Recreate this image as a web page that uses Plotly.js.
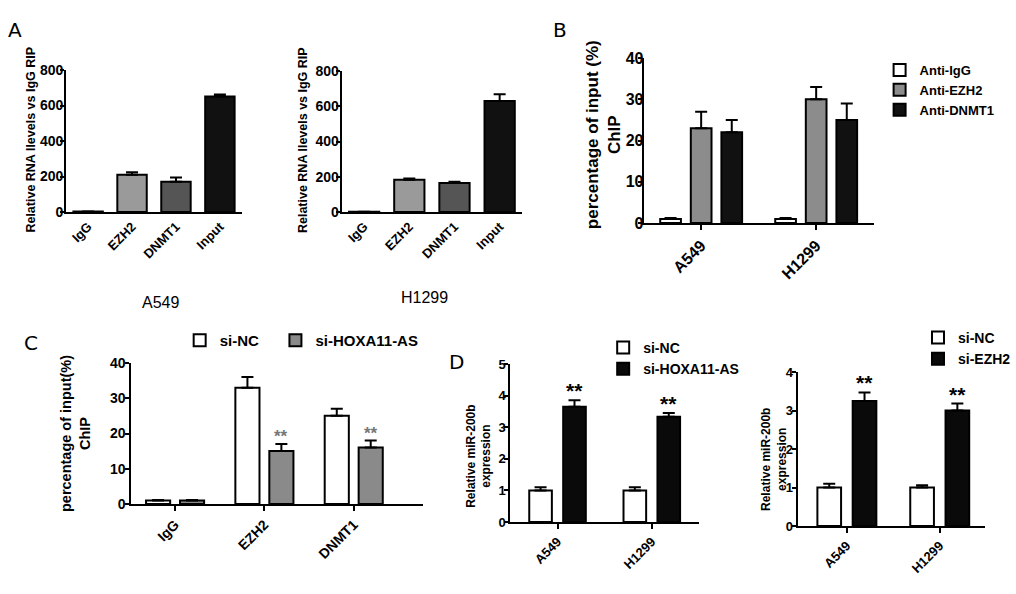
<!DOCTYPE html>
<html>
<head>
<meta charset="utf-8">
<script src="https://cdn.plot.ly/plotly-3.0.1.min.js"></script>
<style>html,body{margin:0;padding:0;background:#fff;}#chart{width:1016px;height:594px;}</style>
</head>
<body>
<div id="chart"></div>
<script>
// ---------- DATA ----------
// Panel A (RIP)
const aCats = ['IgG', 'EZH2', 'DNMT1', 'Input'];
const aA549Vals = [3, 210, 170, 650];
const aA549Err = [0, 14, 25, 12];
const aH1299Vals = [2, 183, 165, 630];
const aH1299Err = [0, 7, 7, 38];
const aCellLabels = ['A549', 'H1299'];
const aTicks = [0, 200, 400, 600, 800];
// Panel B (ChIP)
const bCats = ['A549', 'H1299'];
const bIgG = [1, 1];
const bIgGErr = [0.2, 0.2];
const bEZH2 = [23, 30];
const bEZH2Err = [4, 3];
const bDNMT1 = [22, 25];
const bDNMT1Err = [3, 4];
const bNames = ['Anti-IgG', 'Anti-EZH2', 'Anti-DNMT1'];
const bTicks = [0, 10, 20, 30, 40];
// Panel C (ChIP after knockdown)
const cCats = ['IgG', 'EZH2', 'DNMT1'];
const cNC = [1, 33, 25];
const cNCErr = [0.1, 3, 2];
const cHOX = [1, 15, 16];
const cHOXErr = [0.1, 2, 2];
const cSig = ['', '**', '**'];
const cNames = ['si-NC', 'si-HOXA11-AS'];
const cTicks = [0, 10, 20, 30, 40];
// Panel D (miR-200b, si-HOXA11-AS)
const dCats = ['A549', 'H1299'];
const dNC = [1, 1];
const dNCErr = [0.1, 0.1];
const dHOX = [3.65, 3.33];
const dHOXErr = [0.2, 0.12];
const dSig = ['**', '**'];
const dNames = ['si-NC', 'si-HOXA11-AS'];
const dTicks = [0, 1, 2, 3, 4, 5];
// Panel E (miR-200b, si-EZH2)
const eCats = ['A549', 'H1299'];
const eNC = [1, 1];
const eNCErr = [0.1, 0.06];
const eEZH2 = [3.25, 3.0];
const eEZH2Err = [0.22, 0.18];
const eSig = ['**', '**'];
const eNames = ['si-NC', 'si-EZH2'];
const eTicks = [0, 1, 2, 3, 4];

// ---------- HELPERS ----------
const W = 1016, H = 594;
const FONT = 'Liberation Sans, Arial, sans-serif';
const px = v => v / W;
const py = v => 1 - v / H;
const zeros = n => new Array(n).fill(0);
const b = s => '<b>' + s + '</b>';

function errY(arr) {
  return {type: 'data', symmetric: false, array: arr, arrayminus: zeros(arr.length),
          color: '#000', thickness: 2, width: 6};
}
function bar(xa, ya, cats, vals, errs, color, opts) {
  return Object.assign({
    type: 'bar', x: cats, y: vals, xaxis: xa, yaxis: ya,
    marker: {color: color, line: {color: '#000', width: 2}},
    error_y: errY(errs), hoverinfo: 'skip'
  }, opts || {});
}
function xAxis(x0, x1, anchor, range, cats, fs, ticks) {
  return {domain: [px(x0), px(x1)], anchor: anchor, type: 'category', range: range,
          tickmode: 'array', tickvals: cats, ticktext: cats.map(b),
          showline: true, linecolor: '#000', linewidth: 2, showgrid: false, zeroline: false,
          ticks: ticks ? 'outside' : '', ticklen: 5, tickwidth: 2, tickcolor: '#000',
          tickangle: -45, tickfont: {family: FONT, size: fs, color: '#000', weight: 700},
          fixedrange: true};
}
function yAxis(yTop, yBot, anchor, range, tv, fs, standoff) {
  return {domain: [py(yBot), py(yTop)], anchor: anchor, range: range,
          tickmode: 'array', tickvals: tv, ticktext: tv.map(v => b(String(v))),
          showline: true, linecolor: '#000', linewidth: 2, showgrid: false, zeroline: false,
          ticks: 'outside', ticklen: 4, tickwidth: 2, tickcolor: '#000',
          ticklabelposition: 'outside', ticklabelstandoff: standoff,
          tickfont: {family: FONT, size: fs, color: '#000', weight: 700},
          fixedrange: true};
}

// ---------- TRACES ----------
const traces = [];
const aColors = ['#ffffff', '#9a9a9a', '#555555', '#111111'];
// A
traces.push(bar('x', 'y', aCats, aA549Vals, aA549Err, aColors, {width: 0.67, showlegend: false}));
traces.push(bar('x2', 'y2', aCats, aH1299Vals, aH1299Err, aColors, {width: 0.67, showlegend: false}));
// B
const bW = 0.18;
[[bIgG, bIgGErr, '#ffffff', -0.266], [bEZH2, bEZH2Err, '#8c8c8c', 0], [bDNMT1, bDNMT1Err, '#111111', 0.266]]
  .forEach((s, i) => traces.push(bar('x3', 'y3', bCats, s[0], s[1], s[2],
    {name: bNames[i], width: bW, offset: s[3] - bW / 2, legend: 'legend'})));
// C
const cW = 0.27, cOff = [-0.19, 0.19];
traces.push(bar('x4', 'y4', cCats, cNC, cNCErr, '#ffffff', {name: cNames[0], width: cW, offset: cOff[0] - cW / 2, legend: 'legend2'}));
traces.push(bar('x4', 'y4', cCats, cHOX, cHOXErr, '#8a8a8a', {name: cNames[1], width: cW, offset: cOff[1] - cW / 2, legend: 'legend5'}));
// D
const dW = 0.24, dOff = [-0.18, 0.18];
traces.push(bar('x5', 'y5', dCats, dNC, dNCErr, '#ffffff', {name: dNames[0], width: dW, offset: dOff[0] - dW / 2, legend: 'legend3'}));
traces.push(bar('x5', 'y5', dCats, dHOX, dHOXErr, '#0a0a0a', {name: dNames[1], width: dW, offset: dOff[1] - dW / 2, legend: 'legend3'}));
// E
const eW = 0.255, eOff = [-0.19, 0.19];
traces.push(bar('x6', 'y6', eCats, eNC, eNCErr, '#ffffff', {name: eNames[0], width: eW, offset: eOff[0] - eW / 2, legend: 'legend4'}));
traces.push(bar('x6', 'y6', eCats, eEZH2, eEZH2Err, '#0a0a0a', {name: eNames[1], width: eW, offset: eOff[1] - eW / 2, legend: 'legend4'}));

// ---------- ANNOTATIONS ----------
const ann = [];
function txt(x, y, t, size, opts) {
  ann.push(Object.assign({xref: 'paper', yref: 'paper', x: px(x), y: py(y), text: t, showarrow: false,
    xanchor: 'center', yanchor: 'middle', font: {family: FONT, size: size, color: '#000'}}, opts || {}));
}
const letterFont = {family: 'DejaVu Sans', size: 20, color: '#000'};
txt(15, 30, 'A', 20, {font: letterFont});
txt(567, 30, 'B', 20, {font: letterFont});
txt(31, 343, 'C', 20, {font: letterFont});
txt(462, 362, 'D', 20, {font: letterFont});
// cell labels under A
txt(163, 302, aCellLabels[0], 16);
txt(430, 297, aCellLabels[1], 16);
// y titles
const bold = (s) => ({family: FONT, size: s, color: '#000', weight: 700});
txt(31, 140, b('Relative RNA llevels vs IgG RIP'), 12.5, {textangle: -90, font: bold(12.5)});
txt(307, 140, b('Relative RNA llevels vs IgG RIP'), 12.5, {textangle: -90, font: bold(12.5)});
txt(611, 135, b('percentage of input (%)') + '<br>' + b('ChIP'), 17, {textangle: -90, font: bold(17)});
txt(76, 434, b('percentage of input(%)') + '<br>' + b('ChIP'), 14.5, {textangle: -90, font: bold(14.5)});
txt(485, 456, b('Relative miR-200b') + '<br>' + b('expression'), 12, {textangle: -90, font: bold(12)});
txt(784, 459, b('Relative miR-200b') + '<br>' + b('expression'), 12, {textangle: -90, font: bold(12)});
// significance stars
function stars(xa, ya, vals, errs, sig, off, size, color) {
  sig.forEach((s, i) => {
    if (!s) return;
    ann.push({xref: xa, yref: ya, x: i + off, y: vals[i] + errs[i], text: b(s), showarrow: false,
      xanchor: 'center', yanchor: 'bottom', yshift: -4,
      font: {family: FONT, size: size, color: color, weight: 700}});
  });
}
stars('x4', 'y4', cHOX, cHOXErr, cSig, cOff[1], 17, '#777777');
stars('x5', 'y5', dHOX, dHOXErr, dSig, dOff[1], 21, '#000');
stars('x6', 'y6', eEZH2, eEZH2Err, eSig, eOff[1], 21, '#000');

// ---------- LAYOUT ----------
const legBase = (x, y, fs, extra) => Object.assign({x: px(x), y: py(y), xanchor: 'left', yanchor: 'top',
  bgcolor: 'rgba(0,0,0,0)', borderwidth: 0, font: {family: FONT, size: fs, color: '#000', weight: 700},
  traceorder: 'normal'}, extra || {});

const layout = {
  width: W, height: H,
  margin: {l: 0, r: 0, t: 0, b: 0},
  paper_bgcolor: '#fff', plot_bgcolor: 'rgba(0,0,0,0)',
  barmode: 'overlay',
  showlegend: true,
  xaxis: xAxis(67, 245, 'y', [-0.5, 3.5], aCats, 13, false),
  yaxis: yAxis(70, 212, 'x', [0, 800], aTicks, 14, -6),
  xaxis2: xAxis(346, 529, 'y2', [-0.5, 3.5], aCats, 13, false),
  yaxis2: yAxis(71, 212, 'x2', [0, 800], aTicks, 14, -6),
  xaxis3: xAxis(652, 885, 'y3', [-0.5, 1.5], bCats, 16, true),
  yaxis3: yAxis(58, 223, 'x3', [0, 40], bTicks, 16, -9),
  xaxis4: xAxis(133, 428, 'y4', [-0.49, 2.77], cCats, 14, true),
  yaxis4: yAxis(363, 504, 'x4', [0, 40], cTicks, 14, -3),
  xaxis5: xAxis(517, 708, 'y5', [-0.5, 1.5], dCats, 13, true),
  yaxis5: yAxis(364, 522, 'x5', [0, 5], dTicks, 13, -4),
  xaxis6: xAxis(808, 998, 'y6', [-0.53, 1.49], eCats, 13, true),
  yaxis6: yAxis(372, 526, 'x6', [0, 4], eTicks, 13, -4),
  legend: legBase(891, 55, 13),
  legend2: legBase(182, 324, 15),
  legend5: legBase(279, 324, 15),
  legend3: legBase(611, 332, 14),
  legend4: legBase(930, 322, 14),
  annotations: ann
};

Plotly.newPlot('chart', traces, layout, {staticPlot: true, displayModeBar: false});
</script>
</body>
</html>
